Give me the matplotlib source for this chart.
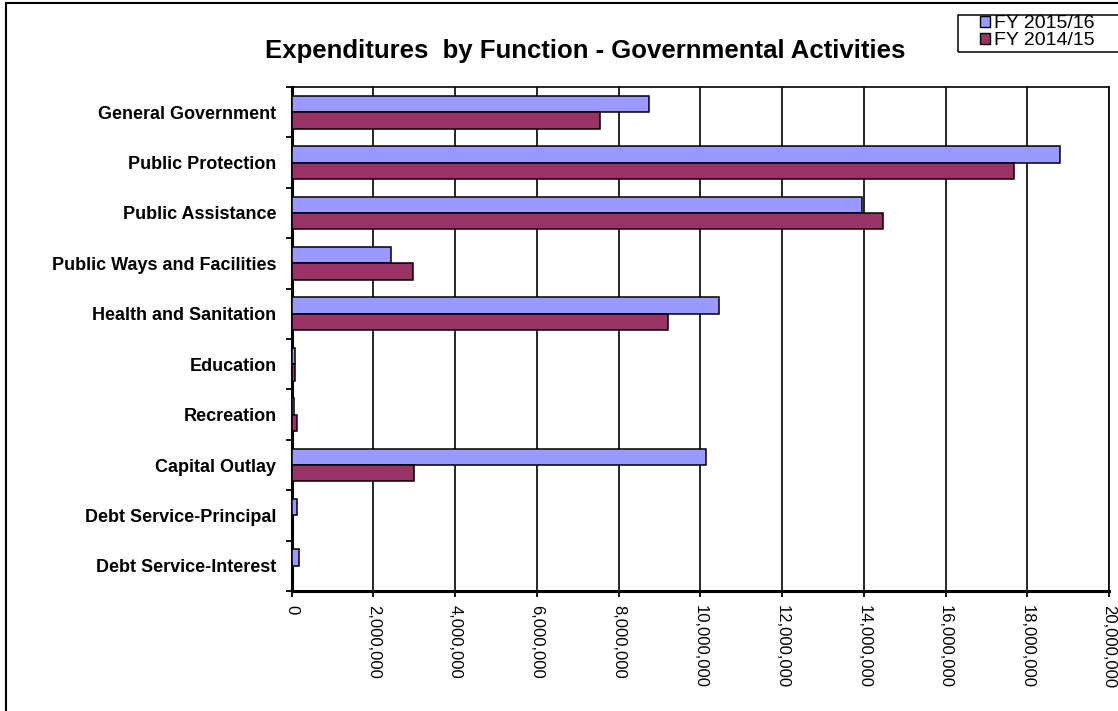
import numpy as np
import matplotlib
matplotlib.use("Agg")
import matplotlib.pyplot as plt
from matplotlib.patches import Rectangle, Patch
from matplotlib.ticker import FuncFormatter, MultipleLocator

plt.rcParams["font.family"] = ["Liberation Sans", "DejaVu Sans"]

# Expenditures by function (dollars)
functions = [
    "General Government",
    "Public Protection",
    "Public Assistance",
    "Public Ways and Facilities",
    "Health and Sanitation",
    "Education",
    "Recreation",
    "Capital Outlay",
    "Debt Service-Principal",
    "Debt Service-Interest",
]
fy_2015_16 = [8750000, 18800000, 13960000, 2430000, 10450000,
              70000, 60000, 10150000, 120000, 180000]
fy_2014_15 = [7540000, 17680000, 14460000, 2970000, 9220000,
              70000, 120000, 3000000, 0, 0]
series_names = ["FY 2015/16", "FY 2014/15"]
series_colors = ["#9999FF", "#993366"]

W, H = 1118, 711
fig = plt.figure(figsize=(W / 100, H / 100), dpi=100)
ax = fig.add_axes([291.7 / W, 1 - 591 / H, (1109 - 291.7) / W, (591 - 87) / H])

y = np.arange(len(functions))
bar_h = 0.325
ax.barh(y - bar_h / 2, fy_2015_16, height=bar_h, color=series_colors[0],
        edgecolor="black", linewidth=1.1, zorder=3)
ax.barh(y + bar_h / 2, fy_2014_15, height=bar_h, color=series_colors[1],
        edgecolor="black", linewidth=1.1, zorder=3)

ax.set_ylim(len(functions) - 0.5, -0.5)
ax.set_xlim(0, 20000000)

# category labels at the centre, tick marks on the category boundaries
ax.set_yticks(y)
ax.set_yticklabels(functions, fontsize=13, fontweight="bold")
ax.tick_params(axis="y", which="major", length=0, pad=11)
ax.yaxis.set_minor_locator(MultipleLocator(1, offset=0.5))
ax.tick_params(axis="y", which="minor", length=4, width=1.3, direction="out")

ax.xaxis.set_major_locator(MultipleLocator(2000000))
ax.xaxis.set_major_formatter(FuncFormatter(lambda v, p: f"{int(v):,}"))
ax.tick_params(axis="x", length=4, width=1.3, direction="out", pad=6, labelsize=12)
for lbl in ax.get_xticklabels():
    lbl.set_rotation(270)
    lbl.set_va("top")
    lbl.set_ha("center")

ax.grid(axis="x", color="black", linewidth=1.2, zorder=0)
for side in ["left", "bottom"]:
    ax.spines[side].set_linewidth(2.2)
for side in ["top", "right"]:
    ax.spines[side].set_linewidth(1.2)

fig.text(585 / W, 1 - 58 / H, "Expenditures  by Function - Governmental Activities",
         fontsize=18.5, fontweight="bold", ha="center", va="baseline")

# legend with a plain box that runs off the right edge
fig.patches.append(Rectangle((958 / W, 1 - 52 / H), 200 / W, 37 / H,
                             transform=fig.transFigure, fill=False,
                             edgecolor="black", linewidth=1.1))
handles = [Patch(facecolor=c, edgecolor="black", linewidth=1.0) for c in series_colors]
fig.legend(handles, series_names, loc="upper left",
           bbox_to_anchor=(979 / W, 1 - 14 / H), frameon=False, fontsize=14,
           handlelength=0.5, handleheight=0.5, handletextpad=0.2,
           labelspacing=0.0, borderpad=0.05, borderaxespad=0)

# chart area border
fig.patches.append(Rectangle((6 / W, -0.1), 1.2, 1.1 - 3 / H,
                             transform=fig.transFigure, fill=False,
                             edgecolor="black", linewidth=1.5))

fig.savefig("out.png", dpi=100)
